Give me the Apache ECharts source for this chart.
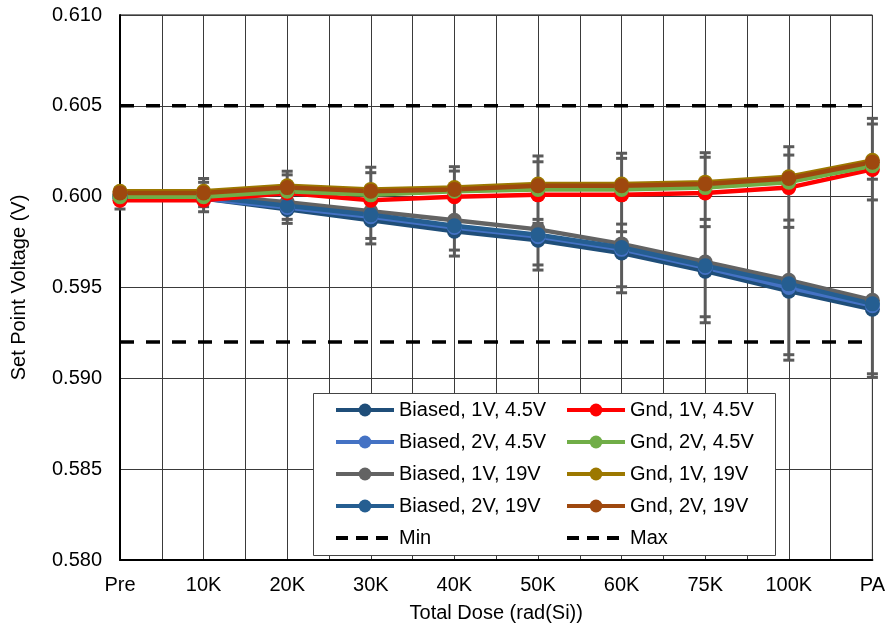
<!DOCTYPE html>
<html>
<head>
<meta charset="utf-8">
<script src="https://cdn.jsdelivr.net/npm/echarts@6/dist/echarts.min.js"></script>
<style>
html,body{margin:0;padding:0;background:#fff;}
#chart{width:888px;height:632px;}
</style>
</head>
<body>
<div id="chart"></div>
<script>
var categories = ['Pre','10K','20K','30K','40K','50K','60K','75K','100K','PA'];

var biased1V45 = [0.5999, 0.5999, 0.5993, 0.5987, 0.5981, 0.5976, 0.5969, 0.5959, 0.5948, 0.5938];
var biased2V45 = [0.6000, 0.5999, 0.5994, 0.5989, 0.5983, 0.5978, 0.5971, 0.5961, 0.5950, 0.5940];
var biased1V19 = [0.6001, 0.6001, 0.5997, 0.5992, 0.5987, 0.5982, 0.5974, 0.5964, 0.5954, 0.5943];
var biased2V19 = [0.6000, 0.6000, 0.5995, 0.5990, 0.5984, 0.5979, 0.5972, 0.5962, 0.5952, 0.5941];
var gnd1V45    = [0.5998, 0.5998, 0.6002, 0.5998, 0.6000, 0.6001, 0.6001, 0.6002, 0.6005, 0.6015];
var gnd2V45    = [0.6000, 0.6000, 0.6003, 0.6001, 0.6003, 0.6004, 0.6004, 0.6005, 0.6008, 0.6017];
var gnd1V19    = [0.6003, 0.6003, 0.6006, 0.6004, 0.6005, 0.6007, 0.6007, 0.6008, 0.6011, 0.6020];
var gnd2V19    = [0.6002, 0.6002, 0.6005, 0.6003, 0.6004, 0.6006, 0.6006, 0.6007, 0.6010, 0.6019];
var minLimit   = [0.592, 0.592, 0.592, 0.592, 0.592, 0.592, 0.592, 0.592, 0.592, 0.592];
var maxLimit   = [0.605, 0.605, 0.605, 0.605, 0.605, 0.605, 0.605, 0.605, 0.605, 0.605];

// error bar cap values (null = not visible)
var errTopA = [0.6005, 0.6010, 0.6014, 0.60162, 0.60165, 0.60224, 0.60239, 0.60242, 0.60275, 0.60431];
var errTopB = [null, 0.60079, 0.6012, 0.60132, 0.60141, 0.60192, 0.60211, 0.60217, 0.60229, 0.60400];
var errMidA = [null, null, null, null, null, 0.59875, 0.59849, 0.59875, 0.59871, 0.60096];
var errMidB = [null, null, null, null, null, 0.59853, 0.59807, 0.59835, 0.59831, 0.59982];
var errLowA = [0.59932, 0.59917, 0.59875, 0.5977, 0.59706, 0.59624, 0.59504, 0.59339, 0.5913, 0.59025];
var errLowB = [null, 0.59945, 0.59853, 0.5974, 0.59673, 0.59596, 0.59471, 0.59306, 0.5910, 0.59005];

var yTicks = ['0.580','0.585','0.590','0.595','0.600','0.605','0.610'];

var FONT = 'Arial, "Liberation Sans", sans-serif';
var FS = 20;

function pairs(arr){ return arr.map(function(v,i){ return [i, v]; }); }

var errData = categories.map(function(c,i){
  return [i, errTopA[i], errTopB[i], errMidA[i], errMidB[i], errLowA[i], errLowB[i]].map(function(v){ return v === null ? '-' : v; });
});

function lineSeries(name, data, color){
  return {
    name: name, type: 'line', data: pairs(data), clip: false,
    symbol: 'circle', symbolSize: 15,
    lineStyle: {color: color, width: 4.5},
    itemStyle: {color: color},
    z: 3
  };
}

var chart = echarts.init(document.getElementById('chart'), null, {renderer: 'canvas'});

var legendText = {fontFamily: FONT, fontSize: FS, color: '#000'};
function legItems(names){
  return names.map(function(n){
    if (n === 'Min' || n === 'Max') {
      return {name: n, itemStyle: {opacity: 0}, lineStyle: {width: 4, type: [12, 8], color: '#000'}};
    }
    return {name: n};
  });
}

var option = {
  animation: false,
  backgroundColor: '#fff',
  grid: {left: 120, right: 13, top: 15, bottom: 72, show: true, borderColor: '#000', borderWidth: 1},
  xAxis: {
    type: 'value', min: 0, max: 9, interval: 0.5,
    name: 'Total Dose (rad(Si))', nameLocation: 'middle', nameGap: 43,
    nameTextStyle: {fontFamily: FONT, fontSize: FS, color: '#000'},
    axisLine: {show: true, onZero: false, lineStyle: {color: '#000', width: 2}},
    axisTick: {show: false},
    axisLabel: {
      fontFamily: FONT, fontSize: FS, color: '#000', margin: 15,
      formatter: function(v){ return Number.isInteger(v) ? categories[v] : ''; }
    },
    splitLine: {show: true, lineStyle: {color: '#3a3a3a', width: 1}}
  },
  yAxis: {
    type: 'value', min: 0.58, max: 0.61, interval: 0.005,
    name: 'Set Point Voltage (V)', nameLocation: 'middle', nameGap: 91,
    nameTextStyle: {fontFamily: FONT, fontSize: FS, color: '#000'},
    axisLine: {show: true, lineStyle: {color: '#000', width: 2}},
    axisTick: {show: false},
    axisLabel: {
      fontFamily: FONT, fontSize: FS, color: '#000', margin: 18,
      formatter: function(v){ return yTicks[Math.round((v - 0.58) / 0.005)]; }
    },
    splitLine: {show: true, lineStyle: {color: '#3a3a3a', width: 1}}
  },
  legend: [
    {
      orient: 'vertical', left: 329, top: 395, itemWidth: 58, itemHeight: 16, itemGap: 12, z: 20,
      textStyle: legendText, lineStyle: {width: 4}, itemStyle: {},
      data: legItems(['Biased, 1V, 4.5V','Biased, 2V, 4.5V','Biased, 1V, 19V','Biased, 2V, 19V','Min'])
    },
    {
      orient: 'vertical', left: 560, top: 395, itemWidth: 58, itemHeight: 16, itemGap: 12, z: 20,
      textStyle: legendText, lineStyle: {width: 4},
      data: legItems(['Gnd, 1V, 4.5V','Gnd, 2V, 4.5V','Gnd, 1V, 19V','Gnd, 2V, 19V','Max'])
    }
  ],
  graphic: [{
    type: 'rect', left: 313, top: 393, z: 10,
    shape: {width: 462, height: 162},
    style: {fill: '#fff', stroke: '#444', lineWidth: 1}
  }],
  series: [
    {
      name: 'err', type: 'custom', data: errData, z: 2, silent: true,
      encode: {x: 0, y: [1,2,3,4,5,6]},
      renderItem: function(params, api){
        var x = api.value(0);
        var vals = [];
        for (var k = 1; k <= 6; k++){
          var v = api.value(k);
          if (v !== null && v !== '-' && !isNaN(v)) vals.push(v);
        }
        if (!vals.length) return;
        var hi = Math.max.apply(null, vals), lo = Math.min.apply(null, vals);
        var pHi = api.coord([x, hi]), pLo = api.coord([x, lo]);
        var col = '#5a5a5a';
        var children = [{
          type: 'line', shape: {x1: pHi[0], y1: pHi[1], x2: pLo[0], y2: pLo[1]},
          style: {stroke: col, lineWidth: 3}
        }];
        vals.forEach(function(v){
          var p = api.coord([x, v]);
          children.push({type: 'line', shape: {x1: p[0]-5.5, y1: p[1], x2: p[0]+5.5, y2: p[1]},
            style: {stroke: col, lineWidth: 3}});
        });
        return {type: 'group', children: children};
      }
    },
    {
      name: 'Min', type: 'line', data: pairs(minLimit), symbol: 'none', z: 4,
      lineStyle: {color: '#000', width: 3.5, type: [14, 12]}, itemStyle: {color: '#000'}
    },
    {
      name: 'Max', type: 'line', data: pairs(maxLimit), symbol: 'none', z: 4,
      lineStyle: {color: '#000', width: 3.5, type: [14, 12]}, itemStyle: {color: '#000'}
    },
    lineSeries('Biased, 1V, 4.5V', biased1V45, '#1f4e79'),
    lineSeries('Biased, 2V, 4.5V', biased2V45, '#4472c4'),
    lineSeries('Biased, 1V, 19V', biased1V19, '#636363'),
    lineSeries('Biased, 2V, 19V', biased2V19, '#255e91'),
    lineSeries('Gnd, 1V, 4.5V', gnd1V45, '#ff0000'),
    lineSeries('Gnd, 2V, 4.5V', gnd2V45, '#70ad47'),
    lineSeries('Gnd, 1V, 19V', gnd1V19, '#9c7800'),
    lineSeries('Gnd, 2V, 19V', gnd2V19, '#9e480e')
  ]
};
chart.setOption(option);
</script>
</body>
</html>
